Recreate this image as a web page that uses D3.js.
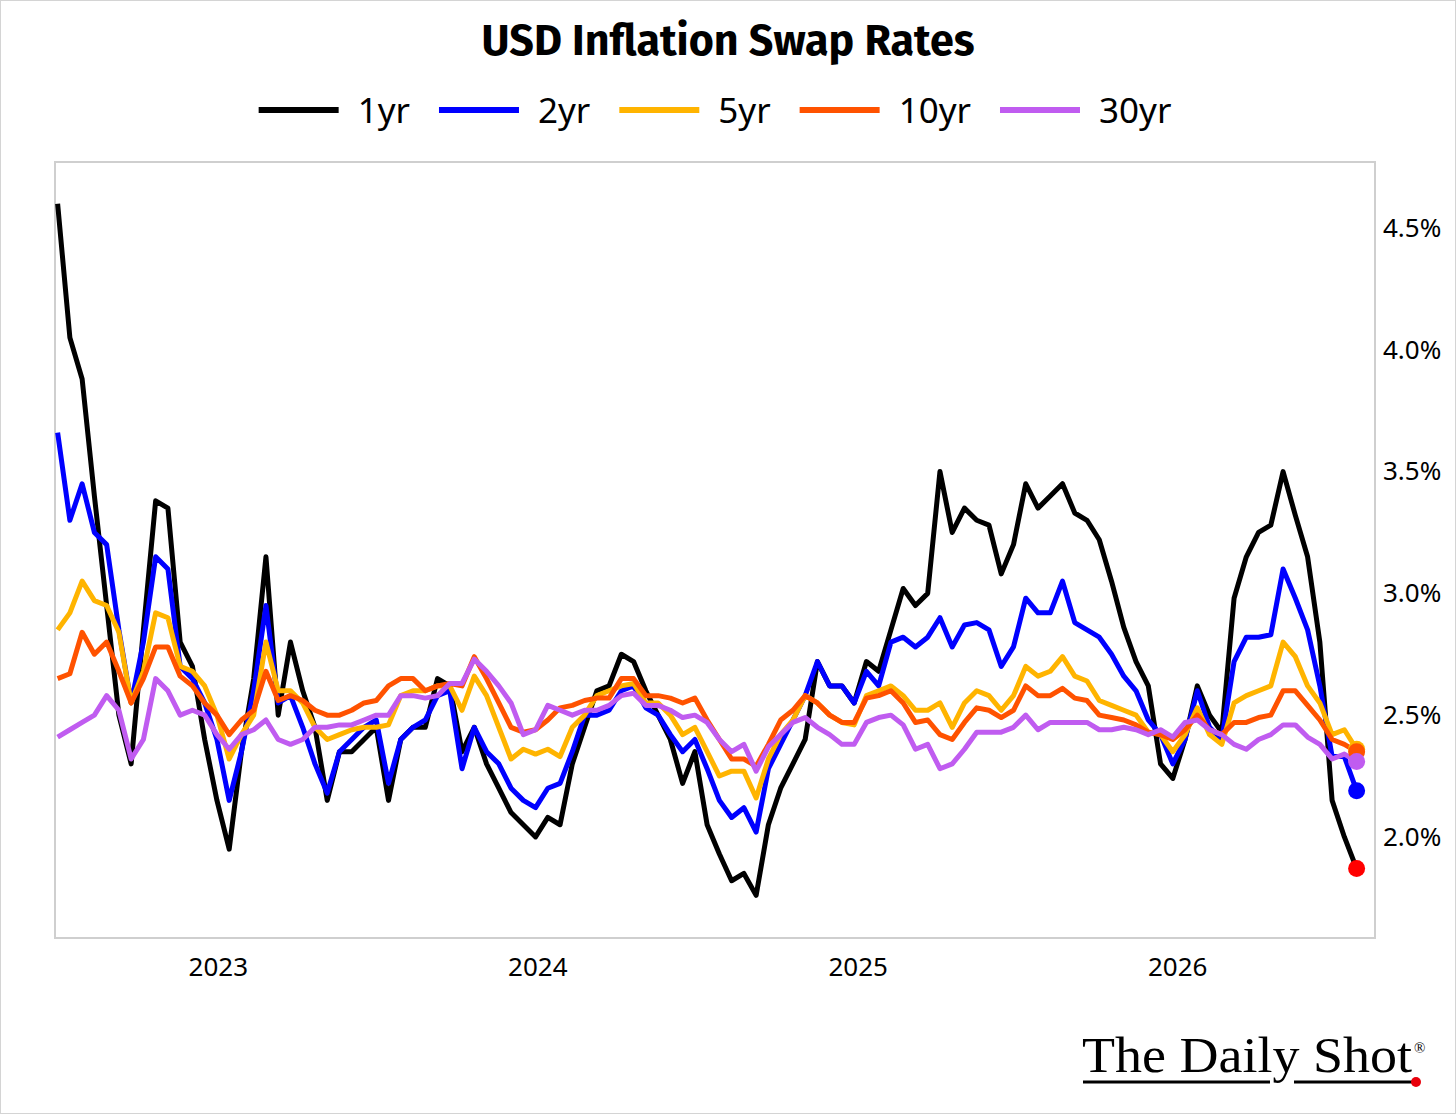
<!DOCTYPE html>
<html>
<head>
<meta charset="utf-8">
<script src="https://cdn.jsdelivr.net/npm/d3@7"></script>
<style>
  body { margin: 0; background: #fff; }
  svg { display: block; }
</style>
</head>
<body>
<svg id="chart" width="1456" height="1114"></svg>
<script>
// biweekly observations, first one on 2 Jul 2022
const startDate = new Date(2022, 6, 2);
const stepDays = 14;

const seriesNames = ['1yr', '2yr', '5yr', '10yr', '30yr'];
const seriesColors = ['#000000', '#0000ff', '#ffb400', '#ff5200', '#c05cf0'];
const dotColors = ['#ff0000', '#0000ff', '#ffb400', '#ff5200', '#c05cf0'];

const yr1 = [4.60, 4.05, 3.88, 3.40, 2.95, 2.50, 2.30, 2.85, 3.38, 3.35, 2.80, 2.70, 2.40, 2.15, 1.95, 2.35, 2.65, 3.15, 2.50, 2.80,
  2.60, 2.45, 2.15, 2.35, 2.35, 2.40, 2.45, 2.15, 2.40, 2.45, 2.45, 2.65, 2.62, 2.35, 2.45, 2.30, 2.20, 2.10, 2.05, 2.00,
  2.08, 2.05, 2.30, 2.45, 2.60, 2.62, 2.75, 2.72, 2.60, 2.50, 2.40, 2.22, 2.35, 2.05, 1.93, 1.82, 1.85, 1.76, 2.05, 2.20,
  2.30, 2.40, 2.72, 2.62, 2.62, 2.55, 2.72, 2.68, 2.85, 3.02, 2.95, 3.00, 3.50, 3.25, 3.35, 3.30, 3.28, 3.08, 3.20, 3.45,
  3.35, 3.40, 3.45, 3.33, 3.30, 3.22, 3.05, 2.86, 2.72, 2.62, 2.30, 2.24, 2.40, 2.62, 2.50, 2.43, 2.98, 3.15, 3.25, 3.28,
  3.50, 3.32, 3.15, 2.80, 2.15, 2.00, 1.87];
const yr2 = [3.66, 3.30, 3.45, 3.25, 3.20, 2.85, 2.55, 2.80, 3.15, 3.10, 2.70, 2.65, 2.55, 2.40, 2.15, 2.35, 2.60, 2.95, 2.55, 2.58,
  2.45, 2.30, 2.18, 2.35, 2.40, 2.45, 2.48, 2.22, 2.40, 2.45, 2.48, 2.58, 2.60, 2.28, 2.45, 2.35, 2.30, 2.20, 2.15, 2.12,
  2.20, 2.22, 2.35, 2.50, 2.50, 2.52, 2.60, 2.62, 2.53, 2.50, 2.42, 2.35, 2.40, 2.28, 2.15, 2.08, 2.12, 2.02, 2.28, 2.38,
  2.48, 2.58, 2.72, 2.62, 2.62, 2.55, 2.68, 2.62, 2.80, 2.82, 2.78, 2.82, 2.90, 2.78, 2.87, 2.88, 2.85, 2.70, 2.78, 2.98,
  2.92, 2.92, 3.05, 2.88, 2.85, 2.82, 2.75, 2.66, 2.60, 2.48, 2.42, 2.30, 2.40, 2.60, 2.45, 2.40, 2.72, 2.82, 2.82, 2.83,
  3.10, 2.98, 2.85, 2.62, 2.33, 2.33, 2.19];
const yr5 = [2.85, 2.92, 3.05, 2.97, 2.95, 2.84, 2.55, 2.68, 2.92, 2.90, 2.70, 2.68, 2.62, 2.50, 2.32, 2.42, 2.50, 2.80, 2.60, 2.60,
  2.55, 2.45, 2.40, 2.42, 2.44, 2.45, 2.45, 2.46, 2.58, 2.60, 2.60, 2.62, 2.62, 2.52, 2.66, 2.58, 2.45, 2.32, 2.36, 2.34,
  2.36, 2.33, 2.45, 2.50, 2.58, 2.60, 2.62, 2.63, 2.55, 2.55, 2.50, 2.42, 2.45, 2.35, 2.25, 2.27, 2.27, 2.16, 2.32, 2.42,
  2.48, 2.58, 2.55, 2.50, 2.47, 2.46, 2.58, 2.60, 2.62, 2.58, 2.52, 2.52, 2.55, 2.45, 2.55, 2.60, 2.58, 2.52, 2.58, 2.70,
  2.66, 2.68, 2.74, 2.66, 2.64, 2.56, 2.54, 2.52, 2.50, 2.43, 2.42, 2.35, 2.42, 2.53, 2.42, 2.38, 2.55, 2.58, 2.60, 2.62,
  2.80, 2.74, 2.62, 2.55, 2.42, 2.44, 2.36];
const yr10 = [2.65, 2.67, 2.84, 2.75, 2.80, 2.68, 2.55, 2.65, 2.78, 2.78, 2.66, 2.62, 2.55, 2.50, 2.42, 2.48, 2.52, 2.68, 2.56, 2.58,
  2.56, 2.52, 2.50, 2.50, 2.52, 2.55, 2.56, 2.62, 2.65, 2.65, 2.60, 2.62, 2.63, 2.62, 2.74, 2.65, 2.55, 2.45, 2.43, 2.44,
  2.48, 2.53, 2.54, 2.56, 2.57, 2.57, 2.65, 2.65, 2.58, 2.58, 2.57, 2.55, 2.57, 2.48, 2.40, 2.32, 2.32, 2.29, 2.38, 2.48,
  2.52, 2.58, 2.55, 2.50, 2.47, 2.47, 2.57, 2.58, 2.60, 2.55, 2.47, 2.48, 2.42, 2.40, 2.47, 2.53, 2.52, 2.49, 2.52, 2.62,
  2.58, 2.58, 2.61, 2.57, 2.56, 2.50, 2.49, 2.48, 2.46, 2.43, 2.42, 2.40, 2.44, 2.50, 2.44, 2.42, 2.47, 2.47, 2.49, 2.50,
  2.60, 2.60, 2.54, 2.48, 2.40, 2.38, 2.35];
const yr30 = [2.41, 2.44, 2.47, 2.50, 2.58, 2.52, 2.32, 2.40, 2.65, 2.60, 2.50, 2.52, 2.50, 2.42, 2.36, 2.42, 2.44, 2.48, 2.40, 2.38,
  2.40, 2.45, 2.45, 2.46, 2.46, 2.48, 2.50, 2.50, 2.58, 2.58, 2.57, 2.58, 2.63, 2.63, 2.73, 2.68, 2.62, 2.55, 2.42, 2.44,
  2.54, 2.52, 2.50, 2.52, 2.52, 2.54, 2.58, 2.59, 2.54, 2.54, 2.52, 2.49, 2.50, 2.47, 2.40, 2.35, 2.38, 2.27, 2.37, 2.42,
  2.47, 2.49, 2.45, 2.42, 2.38, 2.38, 2.47, 2.49, 2.50, 2.46, 2.36, 2.38, 2.28, 2.30, 2.36, 2.43, 2.43, 2.43, 2.45, 2.50,
  2.44, 2.47, 2.47, 2.47, 2.47, 2.44, 2.44, 2.45, 2.44, 2.42, 2.44, 2.41, 2.47, 2.48, 2.44, 2.42, 2.38, 2.36, 2.40, 2.42,
  2.46, 2.46, 2.41, 2.38, 2.32, 2.34, 2.31];

const yTicks = [2.0, 2.5, 3.0, 3.5, 4.0, 4.5];
const xTicks = [new Date(2023, 0, 1), new Date(2024, 0, 1), new Date(2025, 0, 1), new Date(2026, 0, 1)];

const allSeries = [yr1, yr2, yr5, yr10, yr30];
const dates = yr1.map((d, i) => d3.timeDay.offset(startDate, i * stepDays));

const svg = d3.select('#chart'),
    W = 1456, H = 1114,
    plot = {left: 55, top: 162, right: 1375, bottom: 938},
    font = "'Noto Sans', 'Open Sans', sans-serif";

// outer frame
svg.append('rect')
  .attr('x', 0.5).attr('y', 0.5)
  .attr('width', W - 1).attr('height', H - 1)
  .attr('fill', '#fff')
  .attr('stroke', '#d4d4d4');

const x = d3.scaleTime()
  .domain([new Date(2022, 5, 29), new Date(2026, 7, 15)])
  .range([plot.left, plot.right]);

const y = d3.scaleLinear()
  .domain([1.585, 4.771])
  .range([plot.bottom, plot.top]);

// title
svg.append('text')
  .attr('x', 728).attr('y', 55)
  .attr('text-anchor', 'middle')
  .attr('font-family', "'Fira Sans', 'Open Sans', sans-serif")
  .attr('font-weight', 700)
  .attr('font-size', 43)
  .attr('fill', '#000')
  .text('USD Inflation Swap Rates');

// legend
const legend = svg.append('g');
let lx = 0;
seriesNames.forEach((name, i) => {
  const item = legend.append('g').attr('transform', `translate(${lx},0)`);
  item.append('line')
    .attr('x1', 0).attr('x2', 80)
    .attr('y1', 0).attr('y2', 0)
    .attr('stroke', seriesColors[i])
    .attr('stroke-width', 6);
  const t = item.append('text')
    .attr('x', 99).attr('y', 13)
    .attr('font-family', font)
    .attr('font-size', 35)
    .attr('fill', '#000')
    .text(name);
  lx += 99 + t.node().getComputedTextLength() + 29;
});
const legendW = lx - 29;
legend.attr('transform', `translate(${715 - legendW / 2},110)`);

// plot frame
svg.append('rect')
  .attr('x', plot.left).attr('y', plot.top)
  .attr('width', plot.right - plot.left)
  .attr('height', plot.bottom - plot.top)
  .attr('fill', 'none')
  .attr('stroke', '#cfcfcf')
  .attr('stroke-width', 2);

// axes
const yAxis = svg.append('g')
  .attr('transform', `translate(${plot.right},0)`)
  .call(d3.axisRight(y).tickValues(yTicks).tickSize(0).tickPadding(8)
    .tickFormat(d => d3.format('.1f')(d) + '%'));
yAxis.select('.domain').remove();
yAxis.selectAll('text')
  .attr('font-family', font)
  .attr('font-size', 26)
  .attr('fill', '#000');

const xAxis = svg.append('g')
  .attr('transform', `translate(0,${plot.bottom})`)
  .call(d3.axisBottom(x).tickValues(xTicks).tickSize(0).tickPadding(20)
    .tickFormat(d3.timeFormat('%Y')));
xAxis.select('.domain').remove();
xAxis.selectAll('text')
  .attr('font-family', font)
  .attr('font-size', 26)
  .attr('fill', '#000');

// lines
const line = d3.line()
  .x((d, i) => x(dates[i]))
  .y(d => y(d));

const lines = svg.append('g');
allSeries.forEach((vals, i) => {
  lines.append('path')
    .datum(vals)
    .attr('fill', 'none')
    .attr('stroke', seriesColors[i])
    .attr('stroke-width', 5)
    .attr('stroke-linejoin', 'round')
    .attr('d', line);
});

// end dots
const last = dates.length - 1;
allSeries.forEach((vals, i) => {
  svg.append('circle')
    .attr('cx', x(dates[last]))
    .attr('cy', y(vals[last]))
    .attr('r', 8.5)
    .attr('fill', dotColors[i]);
});

// logo
const logo = svg.append('g');
logo.append('text')
  .attr('x', 1082).attr('y', 1072)
  .attr('font-family', "'Liberation Serif', 'DejaVu Serif', serif")
  .attr('font-size', 50)
  .attr('textLength', 330)
  .attr('lengthAdjust', 'spacingAndGlyphs')
  .attr('fill', '#000')
  .text('The Daily Shot');
logo.append('text')
  .attr('x', 1414).attr('y', 1053)
  .attr('font-family', "'Liberation Serif', serif")
  .attr('font-size', 15)
  .attr('fill', '#000')
  .text('®');
logo.append('line')
  .attr('x1', 1083).attr('x2', 1270)
  .attr('y1', 1082).attr('y2', 1082)
  .attr('stroke', '#000').attr('stroke-width', 3);
logo.append('line')
  .attr('x1', 1294).attr('x2', 1414)
  .attr('y1', 1082).attr('y2', 1082)
  .attr('stroke', '#000').attr('stroke-width', 3);
logo.append('circle')
  .attr('cx', 1416).attr('cy', 1082).attr('r', 5)
  .attr('fill', '#e8000b');
</script>
</body>
</html>
